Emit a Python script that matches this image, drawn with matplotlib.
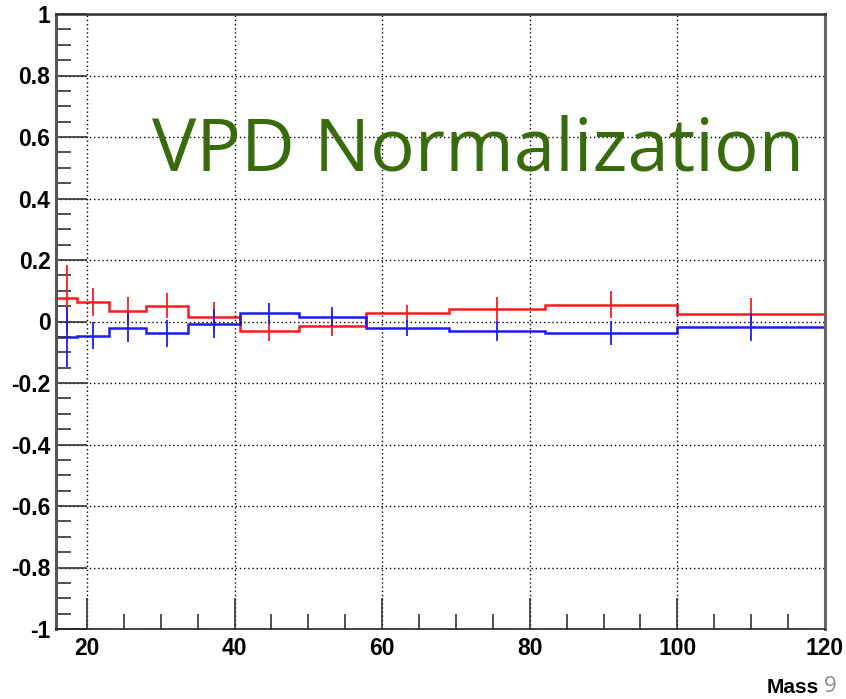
import matplotlib
matplotlib.use("Agg")
import matplotlib.pyplot as plt
from matplotlib.ticker import MultipleLocator
import numpy as np

# bin edges (mass) and histogram contents
bin_edges = [15.8, 18.7, 23.0, 28.0, 33.7, 40.7, 48.7, 57.8, 69.0, 82.0, 100.0, 120.0]
red_vals = [0.075, 0.064, 0.034, 0.052, 0.016, -0.031, -0.014, 0.028, 0.041, 0.054, 0.025]
red_errs = [0.110, 0.045, 0.045, 0.041, 0.047, 0.033, 0.034, 0.027, 0.039, 0.044, 0.050]
blue_vals = [-0.050, -0.046, -0.020, -0.039, -0.007, 0.027, 0.016, -0.021, -0.030, -0.038, -0.018]
blue_errs = [0.098, 0.045, 0.047, 0.045, 0.047, 0.034, 0.032, 0.027, 0.033, 0.039, 0.045]

x_ticks = [20, 40, 60, 80, 100, 120]
y_ticks = [-1, -0.8, -0.6, -0.4, -0.2, 0, 0.2, 0.4, 0.6, 0.8, 1]

fig = plt.figure(figsize=(8.46, 6.99), dpi=100)
ax = fig.add_axes([56 / 846, 70 / 699, 769 / 846, 615 / 699])

edges = np.array(bin_edges)
centers = 0.5 * (edges[:-1] + edges[1:])

for vals, errs, col in [(red_vals, red_errs, '#ff1a1a'), (blue_vals, blue_errs, '#1a1aff')]:
    ax.stairs(vals, edges, color=col, lw=1.8, baseline=None)
    ax.errorbar(centers, vals, yerr=errs, fmt='none', ecolor=col, elinewidth=1.3, capsize=0)

ax.set_xlim(bin_edges[0], bin_edges[-1])
ax.set_ylim(-1, 1)

ax.set_xticks(x_ticks)
ax.set_yticks(y_ticks)
ax.set_xticklabels([str(t) for t in x_ticks])
ax.set_yticklabels(['-1', '-0.8', '-0.6', '-0.4', '-0.2', '0', '0.2', '0.4', '0.6', '0.8', '1'])
ax.xaxis.set_minor_locator(MultipleLocator(5))
ax.yaxis.set_minor_locator(MultipleLocator(0.05))

ax.tick_params(axis='both', which='major', direction='in', length=22, width=1.2, color='#333333',
               labelsize=16.5)
ax.tick_params(axis='x', which='major', pad=6)
ax.tick_params(axis='y', which='major', pad=4)
ax.tick_params(axis='both', which='minor', direction='in', length=11, width=1.2, color='#333333')
ax.tick_params(top=False, right=False, which='both')
for lab in ax.get_xticklabels() + ax.get_yticklabels():
    lab.set_fontweight('bold')
    lab.set_family(['Liberation Sans Narrow', 'Liberation Sans', 'DejaVu Sans'])

ax.grid(True, which='major', color='black', linestyle=(0, (1, 2)), lw=1.0)

ax.spines['left'].set_color('#555555')
ax.spines['left'].set_linewidth(2.2)
ax.spines['right'].set_color('#666666')
ax.spines['right'].set_linewidth(2.2)
ax.spines['top'].set_color('#333333')
ax.spines['top'].set_linewidth(1.8)
ax.spines['bottom'].set_color('#222222')
ax.spines['bottom'].set_linewidth(1.2)

ax.text(0.125, 0.745, 'VPD Normalization', transform=ax.transAxes, color='#376b0b',
        fontsize=53.5, family=['Open Sans', 'DejaVu Sans'], ha='left', va='baseline', zorder=5)

fig.text(819 / 846, 1 - 693 / 699, 'Mass', fontsize=15, fontweight='bold', ha='right', va='baseline',
         family=['Liberation Sans Narrow', 'Liberation Sans', 'DejaVu Sans'])
fig.text(824 / 846, 1 - 692 / 699, '9', fontsize=16, color='#8c8c8c', ha='left', va='baseline',
         family=['Open Sans', 'DejaVu Sans'])

fig.savefig('out.png', dpi=100, facecolor='white')
